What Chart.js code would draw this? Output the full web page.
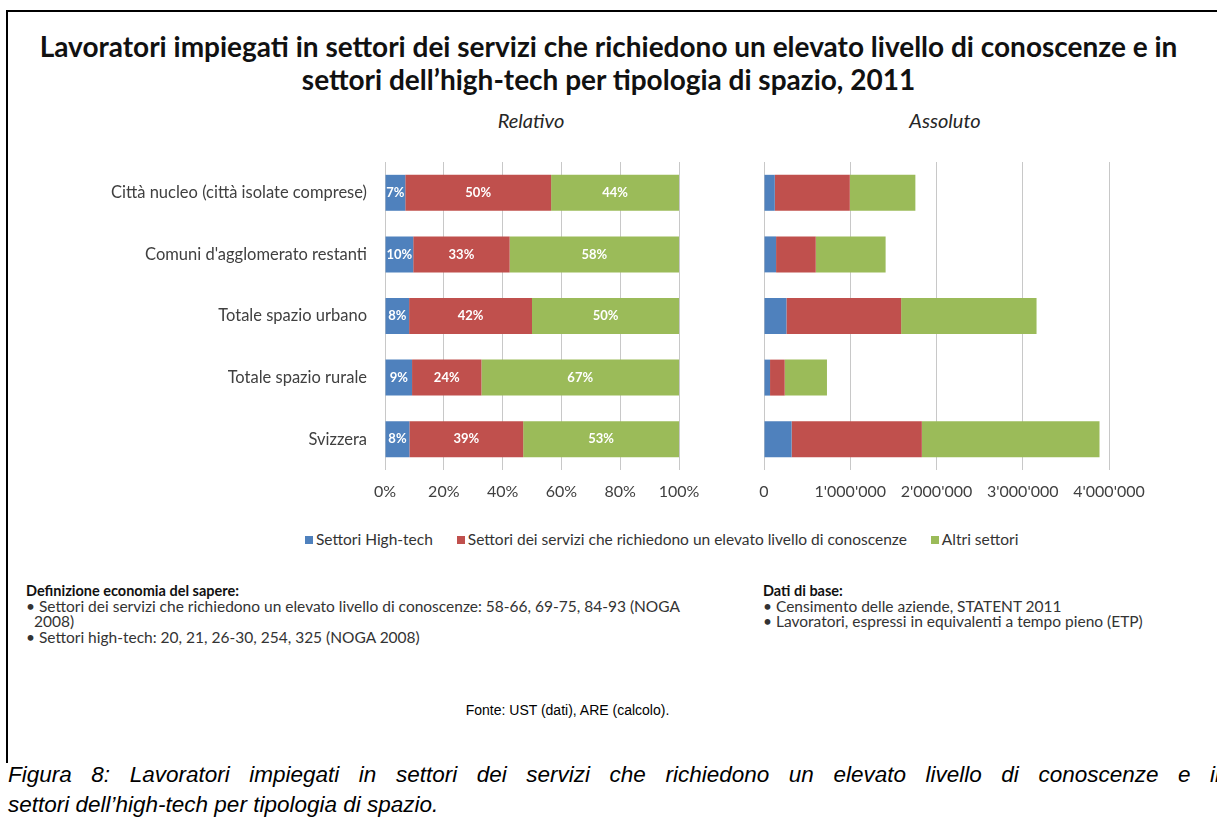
<!DOCTYPE html>
<html>
<head>
<meta charset="utf-8">
<script src="https://cdn.jsdelivr.net/npm/chart.js@4.4.1/dist/chart.umd.min.js"></script>
<style>
  html, body { margin: 0; padding: 0; background: #fff; overflow: hidden; }
  body { width: 1217px; height: 823px; position: relative; font-family: Lato, "Open Sans", sans-serif; color: #262626; }
  .abs { position: absolute; white-space: nowrap; }
  #frame { position: absolute; left: 6px; top: 10px; width: 1300px; height: 751px; border-top: 2px solid #000; border-left: 2px solid #000; }
  #title { left: 0; width: 1217px; top: 30px; text-align: center; font-weight: bold; font-size: 28px; line-height: 33px; color: #111; }
  .sub { font-style: italic; font-size: 20px; top: 108px; color: #262626; width: 200px; text-align: center; }
  #legend { top: 530px; left: 305px; font-size: 15.5px; color: #333; }
  #legend span.item { margin-right: 24px; }
  #legend span.sw { display: inline-block; width: 8px; height: 8px; margin-right: 3px; vertical-align: 1px; }
  .note { font-size: 15.5px; line-height: 15.5px; color: #333; }
  .note b { color: #111; font-size: 14.5px; }
  #fonte { left: 0; width: 1135px; text-align: center; top: 702px; font-family: "Liberation Sans", Arial, sans-serif; font-size: 14px; color: #000; }
  #caption { left: 8px; top: 760px; font-family: "Liberation Sans", Arial, sans-serif; font-style: italic; font-size: 22.5px; line-height: 30px; color: #000; }
  #caption .l1 { word-spacing: 13.3px; }
  canvas { position: absolute; }
</style>
</head>
<body>
<div id="frame"></div>
<div id="title" class="abs">Lavoratori impiegati in settori dei servizi che richiedono un elevato livello di conoscenze e in<br>settori dell’high-tech per tipologia di spazio, 2011</div>
<div class="abs sub" style="left:431px">Relativo</div>
<div class="abs sub" style="left:845px">Assoluto</div>
<canvas id="relChart" style="left:0;top:127px" width="719" height="383"></canvas>
<canvas id="absChart" style="left:700px;top:127px" width="464" height="383"></canvas>
<div id="legend" class="abs"></div>
<div class="abs note" style="left:26px;top:583px"><b>Definizione economia del sapere:</b><br>• Settori dei servizi che richiedono un elevato livello di conoscenze: 58-66, 69-75, 84-93 (NOGA<br>&nbsp;&nbsp;2008)<br>• Settori high-tech: 20, 21, 26-30, 254, 325 (NOGA 2008)</div>
<div class="abs note" style="left:763px;top:583px"><b>Dati di base:</b><br>• Censimento delle aziende, STATENT 2011<br>• Lavoratori, espressi in equivalenti a tempo pieno (ETP)</div>
<div id="fonte" class="abs">Fonte: UST (dati), ARE (calcolo).</div>
<div id="caption" class="abs"><span class="l1">Figura 8: Lavoratori impiegati in settori dei servizi che richiedono un elevato livello di conoscenze e in</span><br>settori dell’high-tech per tipologia di spazio.</div>
<script>
// data
var categories = [
  "Città nucleo (città isolate comprese)",
  "Comuni d'agglomerato restanti",
  "Totale spazio urbano",
  "Totale spazio rurale",
  "Svizzera"
];
var seriesNames = [
  "Settori High-tech",
  "Settori dei servizi che richiedono un elevato livello di conoscenze",
  "Altri settori"
];
var seriesColors = ["#4F81BD", "#C0504D", "#9BBB59"];

// relative shares, %
var relHighTech = [6.9, 9.6, 8.2, 9.2, 8.3];
var relServizi = [49.6, 32.8, 41.8, 23.6, 38.7];
var relAltri = [43.5, 57.6, 50.0, 67.2, 53.0];

// absolute workers (ETP)
var absHighTech = [125000, 140000, 260000, 70000, 320000];
var absServizi = [870000, 460000, 1330000, 170000, 1510000];
var absAltri = [760000, 810000, 1570000, 490000, 2060000];

var relTicks = [0, 20, 40, 60, 80, 100];
var absTicks = [0, 1000000, 2000000, 3000000, 4000000];

var gridColor = "#C8C8C8";
var tickColor = "#404040";

function makeSets(a, b, c) {
  var vals = [a, b, c];
  var sets = [];
  for (var i = 0; i < 3; i++) {
    sets.push({
      label: seriesNames[i],
      data: vals[i],
      backgroundColor: seriesColors[i],
      borderWidth: 0,
      barPercentage: 0.73,
      categoryPercentage: 0.8
    });
  }
  return sets;
}

function swiss(n) {
  return String(n).replace(/\B(?=(\d{3})+(?!\d))/g, "'");
}

// white % labels inside the relative bars
var barLabels = {
  id: "barLabels",
  afterDatasetsDraw: function (chart) {
    var ctx = chart.ctx;
    ctx.save();
    ctx.font = "bold 13px Lato, sans-serif";
    ctx.fillStyle = "#fff";
    ctx.textAlign = "center";
    ctx.textBaseline = "middle";
    chart.data.datasets.forEach(function (ds, i) {
      chart.getDatasetMeta(i).data.forEach(function (bar, j) {
        var x = (bar.x + bar.base) / 2;
        ctx.fillText(Math.round(ds.data[j]) + "%", x, bar.y);
      });
    });
    ctx.restore();
  }
};

Chart.defaults.font.family = "Lato, 'Open Sans', sans-serif";
Chart.defaults.color = tickColor;

new Chart(document.getElementById("relChart"), {
  type: "bar",
  data: { labels: categories, datasets: makeSets(relHighTech, relServizi, relAltri) },
  options: {
    indexAxis: "y",
    responsive: false,
    animation: false,
    layout: { padding: { top: 35, right: 40 } },
    plugins: { legend: { display: false }, tooltip: { enabled: false } },
    scales: {
      x: {
        stacked: true, min: 0, max: 100,
        afterBuildTicks: function (s) { s.ticks = relTicks.map(function (v) { return { value: v }; }); },
        afterFit: function (s) { s.height = 40; },
        grid: { color: gridColor, drawTicks: false },
        border: { display: false },
        ticks: { padding: 12, font: { size: 16 }, color: tickColor, callback: function (v) { return v + "%"; } }
      },
      y: {
        stacked: true,
        afterFit: function (s) { s.width = 385; },
        grid: { display: false, drawTicks: false },
        border: { display: false },
        ticks: { padding: 18, font: { size: 16.5 }, color: tickColor }
      }
    }
  },
  plugins: [barLabels]
});

new Chart(document.getElementById("absChart"), {
  type: "bar",
  data: { labels: categories, datasets: makeSets(absHighTech, absServizi, absAltri) },
  options: {
    indexAxis: "y",
    responsive: false,
    animation: false,
    layout: { padding: { top: 35, right: 55 } },
    plugins: { legend: { display: false }, tooltip: { enabled: false } },
    scales: {
      x: {
        stacked: true, min: 0, max: 4000000,
        afterBuildTicks: function (s) { s.ticks = absTicks.map(function (v) { return { value: v }; }); },
        afterFit: function (s) { s.height = 40; },
        grid: { color: gridColor, drawTicks: false },
        border: { display: false },
        ticks: { padding: 12, font: { size: 16 }, color: tickColor, callback: function (v) { return swiss(v); } }
      },
      y: {
        stacked: true,
        afterFit: function (s) { s.width = 64; },
        grid: { display: false, drawTicks: false },
        border: { display: false },
        ticks: { display: false }
      }
    }
  }
});

// shared legend
var legendHtml = "";
for (var i = 0; i < seriesNames.length; i++) {
  legendHtml += '<span class="item"><span class="sw" style="background:' + seriesColors[i] + '"></span>' + seriesNames[i] + "</span>";
}
document.getElementById("legend").innerHTML = legendHtml;
</script>
</body>
</html>
